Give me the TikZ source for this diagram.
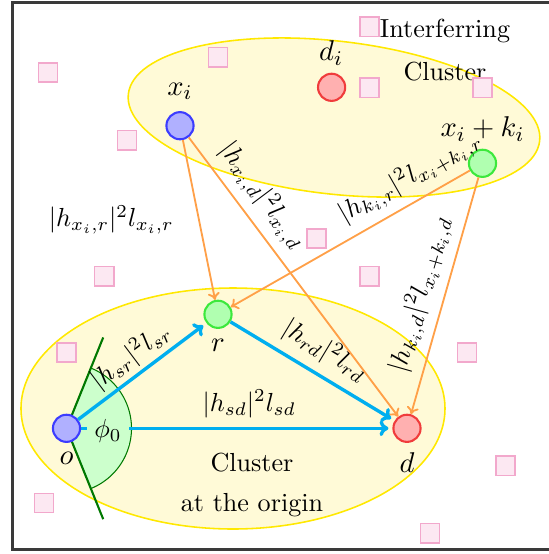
\documentclass[tikz,border=0pt]{standalone}
\usepackage{amssymb,amsmath}
\usepackage{xcolor}
\usepackage{tikz}
\usetikzlibrary{arrows.meta,positioning}
\definecolor{frgray}{RGB}{58,58,58}
\definecolor{clfill}{RGB}{255,250,215}
\definecolor{cldraw}{RGB}{255,232,0}
\definecolor{sqfill}{RGB}{252,232,242}
\definecolor{sqdraw}{RGB}{242,168,204}
\definecolor{bfill}{RGB}{176,176,255}
\definecolor{bdraw}{RGB}{60,60,255}
\definecolor{gfill}{RGB}{176,255,176}
\definecolor{gdraw}{RGB}{60,232,60}
\definecolor{rfill}{RGB}{255,176,176}
\definecolor{rdraw}{RGB}{240,60,60}
\definecolor{lkcyan}{RGB}{0,174,239}
\definecolor{iforange}{RGB}{255,160,72}
\definecolor{secfill}{RGB}{204,255,204}
\definecolor{secdraw}{RGB}{0,120,0}
\tikzset{
  cluster/.style={draw=cldraw, fill=clfill, line width=0.6pt},
  intf/.style={draw=sqdraw, fill=sqfill, line width=0.6pt, minimum size=7.4pt,
    inner sep=0pt},
  usr/.style={circle, minimum size=10.4pt, inner sep=0pt, line width=0.8pt},
  srcnode/.style={usr, draw=bdraw, fill=bfill},
  relnode/.style={usr, draw=gdraw, fill=gfill},
  dstnode/.style={usr, draw=rdraw, fill=rfill},
  usrlabel/.style={font=\fontsize{11}{13}\selectfont},
  lkarrow/.style={-{Computer Modern Rightarrow[length=3.4pt,width=6pt]},
    line width=1.3pt, draw=lkcyan, shorten >=1.5pt},
  ifarrow/.style={-{Computer Modern Rightarrow[length=2.8pt,width=4.6pt]},
    line width=0.7pt, draw=iforange},
  secline/.style={draw=secdraw, line width=0.8pt}
}
\begin{document}
\begin{tikzpicture}[x=0.383pt,y=-0.383pt]
  \useasboundingbox (0,0) rectangle (549,554);
  \draw[line width=1.3pt, draw=frgray] (560,2.5) -- (12.5,2.5) -- (12.5,549.5) -- (560,549.5);

  % clusters
  \draw[cluster, rotate around={-6.5:(334,117.5)}] (334,117.5) ellipse [x radius=207, y radius=76.5];
  \draw[cluster] (233,408.5) ellipse [x radius=212, y radius=120.5];
  \node (tint) at (445,31) {Interferring};
  \node (tintc) at (445,72) {Cluster};
  \node (torc) at (252,463) {Cluster};
  \node (tor) at (252,505) {at the origin};

  % interfering users
  \node[intf] (q1) at (48,72.5) {};
  \node[intf] (q2) at (218,57.3) {};
  \node[intf] (q3) at (369.4,26.7) {};
  \node[intf] (q4) at (369.4,87.7) {};
  \node[intf] (q5) at (482.5,87.7) {};
  \node[intf] (q6) at (127,140.3) {};
  \node[intf] (q7) at (316.5,238.5) {};
  \node[intf] (q8) at (104.3,276.3) {};
  \node[intf] (q9) at (369.4,276.3) {};
  \node[intf] (q10) at (66.5,352.5) {};
  \node[intf] (q11) at (467,352.5) {};
  \node[intf] (q12) at (505.5,465.7) {};
  \node[intf] (q13) at (44,503) {};
  \node[intf] (q14) at (430,533.3) {};

  % angle at the origin
  \coordinate (oc) at (66.5,428.3);
  \filldraw[fill=secfill, draw=secdraw, line width=0.4pt] (oc) -- ++(-68:65)
    arc[start angle=-68, end angle=68, radius=65] -- cycle;
  \draw[secline] (oc) -- ++(-68:98);
  \draw[secline] (oc) -- ++(68:98);

  % users
  \node[srcnode] (o) at (oc) {};
  \node[relnode] (r) at (218,314.3) {};
  \node[dstnode] (d) at (407,428.3) {};
  \node[srcnode] (xi) at (180,125.7) {};
  \node[dstnode] (di) at (331.6,87.3) {};
  \node[relnode] (xk) at (482.5,163.3) {};
  \node[usrlabel] (lo) at (66.5,458) {$o$};
  \node[usrlabel] (lr) at (218,345) {$r$};
  \node[usrlabel] (ld) at (407,463) {$d$};
  \node[usrlabel] (lxi) at (180,91) {$x_i$};
  \node[usrlabel] (ldi) at (331,53) {$d_i$};
  \node[usrlabel] (lxk) at (482.5,129) {$x_i+k_i$};

  % links
  \draw[lkarrow] (o) -- node[pos=0.54, above] (lsd) {$|h_{sd}|^2 l_{sd}$} (d);
  \node[fill=secfill, minimum width=16pt, inner sep=1pt] (phi) at (108,431) {$\phi_0$};
  \draw[lkarrow] (o) -- node[sloped, above=-2pt] (lsr) {$|h_{sr}|^2 l_{sr}$} (r);
  \draw[lkarrow] (r) -- node[sloped, above] (lrd) {$|h_{rd}|^2 l_{rd}$} (d);
  \draw[ifarrow] (xi) -- node[left=6pt] (lxr) {$|h_{x_i,r}|^2 l_{x_i,r}$} (r);
  \draw[ifarrow] (xi) -- node[sloped, above, pos=0.26] (lxd) {$|h_{x_i,d}|^2 l_{x_i,d}$} (d);
  \draw[ifarrow] (xk) -- node[sloped, above, pos=0.2] (lkr) {$|h_{k_i,r}|^2 l_{x_i+k_i,r}$} (r);
  \draw[ifarrow] (xk) -- node[sloped, above, pos=0.52] (lkd) {$|h_{k_i,d}|^2 l_{x_i+k_i,d}$} (d);
\end{tikzpicture}
\end{document}
